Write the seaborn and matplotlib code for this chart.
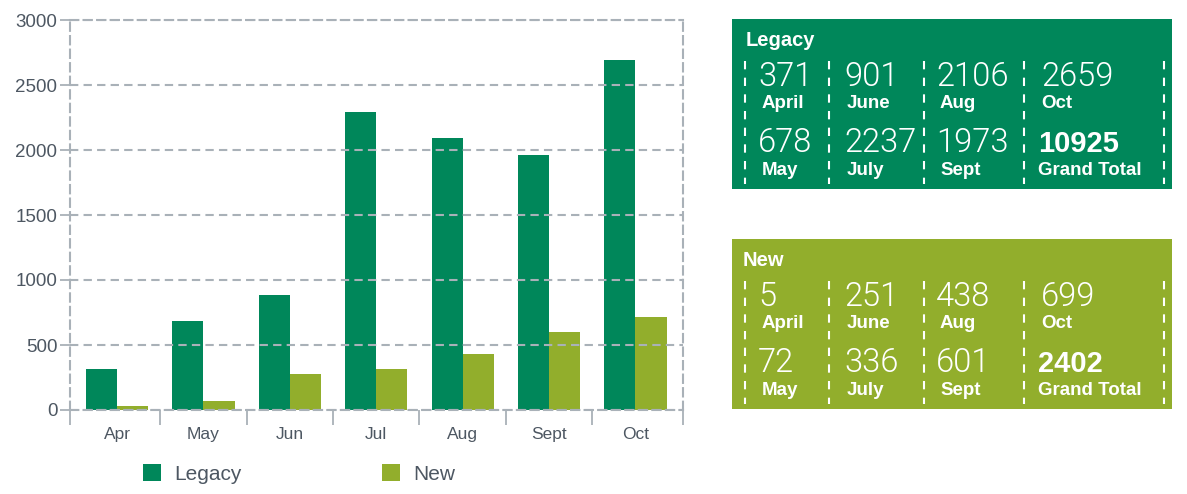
import matplotlib
matplotlib.use("Agg")
import matplotlib.pyplot as plt
import numpy as np
import pandas as pd
import seaborn as sns

# bar heights
months = ["Apr", "May", "Jun", "Jul", "Aug", "Sept", "Oct"]
legacy_bars = [315, 683, 882, 2294, 2095, 1964, 2693]
new_bars = [30, 69, 276, 315, 430, 598, 714]

# summary panels
labels_top = ["April", "June", "Aug", "Oct"]
labels_bottom = ["May", "July", "Sept", "Grand Total"]
legacy_top = ["371", "901", "2106", "2659"]
legacy_bottom = ["678", "2237", "1973", "10925"]
new_top = ["5", "251", "438", "699"]
new_bottom = ["72", "336", "601", "2402"]

LEGACY = "#00875a"
NEW = "#92ae2c"
GRID = "#a9b1b8"
TEXT = "#4d5762"
W, H = 1187, 494

sns.set_theme(style="white")
plt.rcParams["font.family"] = ["Liberation Sans", "DejaVu Sans"]

df = pd.DataFrame({
    "month": months * 2,
    "count": legacy_bars + new_bars,
    "series": ["Legacy"] * len(months) + ["New"] * len(months),
})

fig = plt.figure(figsize=(W / 100, H / 100), dpi=100)
ax = fig.add_axes([70 / W, 1 - 410 / H, 613 / W, 390 / H])

sns.barplot(data=df, x="month", y="count", hue="series",
            palette=[LEGACY, NEW], width=0.72, gap=0, saturation=1,
            errorbar=None, linewidth=0, ax=ax)

ax.set_ylim(0, 3000)
ax.set_xlim(-0.545, 6.55)
ax.set_yticks(np.arange(0, 3001, 500))
ax.set_xlabel("")
ax.set_ylabel("")
ax.grid(axis="y", color=GRID, linestyle=(0, (4, 2.5)), linewidth=1.5)
ax.set_axisbelow(False)
for side in ["left", "right", "top", "bottom"]:
    ax.spines[side].set_visible(True)
    ax.spines[side].set_color(GRID)
    ax.spines[side].set_linewidth(1.5)
    ax.spines[side].set_linestyle((0, (4, 2.5)))

ax.tick_params(axis="y", length=7, width=1.3, color=GRID, pad=2,
               labelsize=13.5, labelcolor=TEXT, left=True)
ax.tick_params(axis="x", which="major", length=0, pad=12,
               labelsize=12.5, labelcolor=TEXT)
ax.set_xticks(list(np.arange(0.5, 6, 1)) + [-0.545, 6.55], minor=True)
ax.tick_params(axis="x", which="minor", length=11, width=1.3, color=GRID,
               bottom=True, direction="out")

sns.move_legend(ax, "center left", bbox_to_anchor=(143 / W, 1 - 474 / H),
                bbox_transform=fig.transFigure, ncol=2, frameon=False,
                title=None, fontsize=15, handlelength=0.85, handleheight=0.85,
                handletextpad=0.65, columnspacing=6.75, borderpad=0,
                borderaxespad=0, labelcolor=TEXT)

# summary panels on the right
sep_x = [13, 97, 192, 292, 432]
num_x = [26, 112, 204, 309]
lab_x = [30, 115, 208, 309]


def draw_panel(y0, color, title, top_vals, bottom_vals, title_x):
    w, h = 440, 170
    pax = fig.add_axes([732 / W, 1 - (y0 + h) / H, w / W, h / H])
    pax.set_xlim(0, w)
    pax.set_ylim(h, 0)
    pax.set_facecolor(color)
    pax.set_xticks([])
    pax.set_yticks([])
    for s in pax.spines.values():
        s.set_visible(False)
    pax.text(title_x, 27, title, color="white", fontsize=14.5, fontweight="bold")
    for sx in sep_x:
        pax.plot([sx, sx], [42, 165], color="white", lw=1.5,
                 linestyle=(0, (4, 4)))
    for i in range(4):
        pax.text(num_x[i], 67, top_vals[i], color="white", fontsize=23.5,
                 family=["Roboto", "DejaVu Sans"], fontweight=300)
        pax.text(lab_x[i], 89, labels_top[i], color="white", fontsize=13.5,
                 fontweight="bold")
        last = i == 3
        pax.text(num_x[i] - (3 if last else 0), 133, bottom_vals[i],
                 color="white", fontsize=21 if last else 23.5,
                 family=["Liberation Sans"] if last else ["Roboto", "DejaVu Sans"],
                 fontweight="bold" if last else 300)
        pax.text(lab_x[i] - (3 if last else 0), 156, labels_bottom[i],
                 color="white", fontsize=13.5, fontweight="bold")


draw_panel(19, LEGACY, "Legacy", legacy_top, legacy_bottom, 14)
draw_panel(239, NEW, "New", new_top, new_bottom, 11)

fig.savefig("out.png", dpi=100)
